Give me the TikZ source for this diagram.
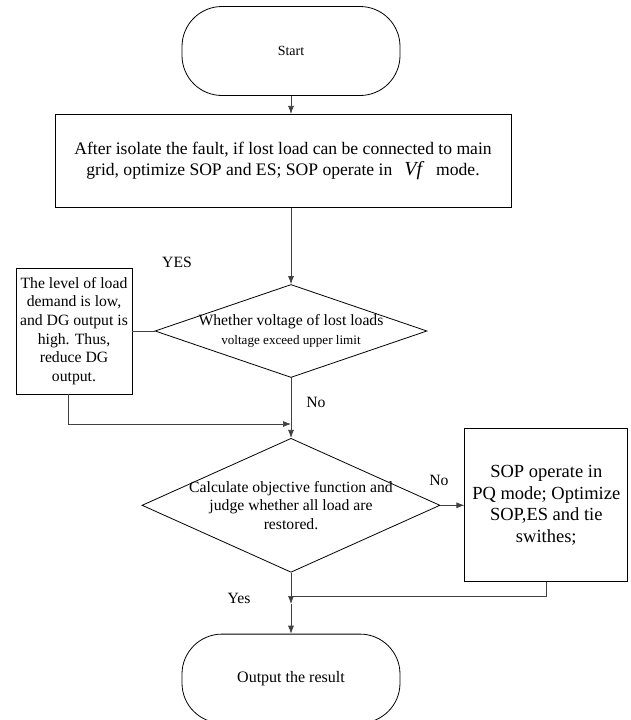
\documentclass[tikz,border=0pt]{standalone}
\usepackage{fontspec}
\setmainfont{Liberation Serif}
\usetikzlibrary{shapes.geometric, arrows.meta, positioning}

\begin{document}
\begin{tikzpicture}[x=1pt, y=-1pt, node distance=18pt, >={Latex[length=8pt,width=6pt]},
    font=\fontsize{15.7}{18.5}\selectfont]
    % Styles
    \tikzstyle{terminal} = [rectangle, draw, rounded corners=40pt, minimum width=218pt, minimum height=89pt, line width=0.8pt]
    \tikzstyle{block} = [rectangle, draw, line width=0.8pt, align=center]
    \tikzstyle{decision} = [diamond, draw, line width=0.8pt, align=center, inner xsep=-30pt, inner ysep=-12pt]
    \tikzstyle{arrow} = [->, draw=black!75, line width=0.7pt]
    \tikzstyle{line} = [draw=black!75, line width=0.7pt]
    \tikzstyle{tag} = [inner sep=0pt]

    \useasboundingbox (0,0) rectangle (630,720);

    % Nodes
    \node[terminal, font=\fontsize{14}{17}\selectfont] (start) at (291,51) {Start};
    \node[block, minimum width=456pt, minimum height=93pt, below=18pt of start, xshift=-8pt,
        font=\fontsize{17.6}{20.3}\selectfont] (isolate)
        {After isolate the fault, if lost load can be connected to main\\
         grid, optimize SOP and ES; SOP operate in\hspace{12pt}{\fontsize{20}{20}\selectfont\itshape Vf}\hspace{14pt}mode.};
    \node[decision, aspect=2.9, minimum width=272pt, minimum height=93pt] (voltage) at (291,331)
        {Whether voltage of lost loads\\{\fontsize{13.1}{16}\selectfont voltage exceed upper limit}};
    \node[block, minimum width=116pt, minimum height=126pt, inner sep=2pt, font=\fontsize{15.7}{18.6}\selectfont] (reduce) at (74,331)
        {The level of load\\demand is low,\\and DG output is\\high. Thus,\\reduce DG\\output.};
    \node[decision, aspect=2.2, minimum width=298pt, minimum height=134pt, below=60pt of voltage,
        font=\fontsize{15.7}{18.3}\selectfont] (objective)
        {Calculate objective function and\\judge whether all load are\\restored.};
    \node[block, minimum width=163pt, minimum height=153pt, right=24pt of objective,
        font=\fontsize{18.5}{21.7}\selectfont] (pq)
        {SOP operate in\\PQ mode; Optimize\\SOP,ES and tie\\swithes;};
    \node[terminal, below=61pt of objective, font=\fontsize{16}{19}\selectfont] (output) {Output the result};

    \node[tag] (yes) at (177,262) {YES};
    \node[tag] (no1) at (316,402) {No};
    \node[tag] (no2) at (439,480) {No};
    \node[tag] (yes2) at (239,598) {Yes};

    \coordinate (join1) at (291,424);
    \coordinate (join2) at (291,596);

    % Paths
    \draw[arrow] (start.south) -- (start.south |- isolate.north);
    \draw[arrow] (voltage.north |- isolate.south) -- (voltage.north);
    \draw[line] (voltage.west) -- (reduce.east);
    \draw[arrow] ([xshift=-6pt]reduce.south) |- (join1);
    \draw[arrow] (voltage.south) -- (objective.north);
    \draw[arrow] (objective.east) -- (pq.west);
    \draw[arrow] (objective.south) -- ([yshift=-8pt]join2);
    \draw[line] (pq.south) |- (join2);
    \draw[arrow] ([yshift=-8pt]join2) -- (output.north);
\end{tikzpicture}
\end{document}
